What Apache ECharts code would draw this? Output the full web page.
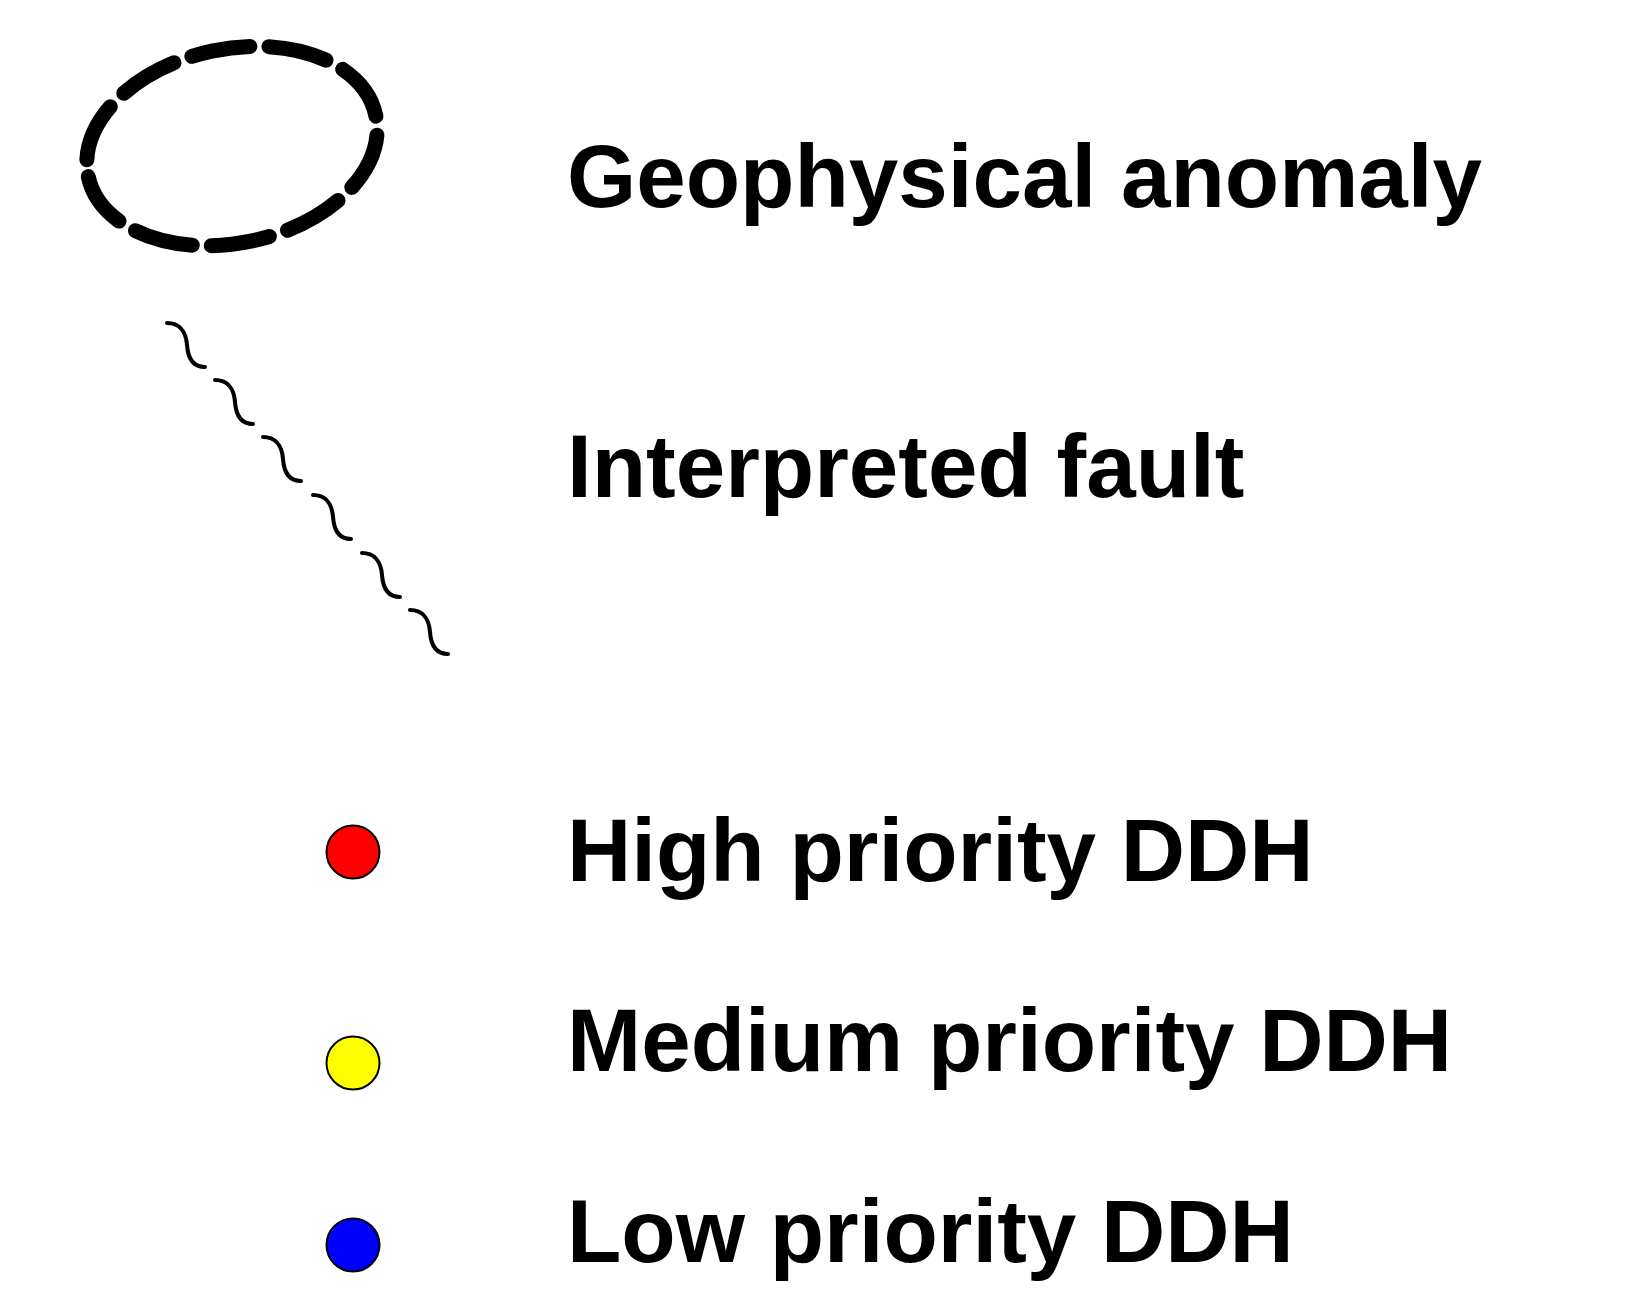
<!DOCTYPE html>
<html>
<head>
<meta charset="utf-8">
<script src="https://cdn.jsdelivr.net/npm/echarts@6/dist/echarts.min.js"></script>
<style>
  html, body { margin: 0; padding: 0; background: #fff; }
  #legend { width: 1629px; height: 1306px; }
</style>
</head>
<body>
<div id="legend"></div>
<script>
// legend items (plane is measured in picture pixels, y downwards)
var labelNames = ['Geophysical anomaly', 'Interpreted fault', 'High priority DDH', 'Medium priority DDH', 'Low priority DDH'];
var labelColumn = 567;
var labelRows = [182, 472, 856, 1046, 1237];

var anomalyCentre = [232, 146];

var faultX = [167, 215, 263, 313, 362, 410];
var faultY = [323, 380, 437, 495, 553, 610];

var ddhNames = ['High', 'Medium', 'Low'];
var ddhColumn = 353;
var ddhRows = [852, 1063, 1245];

var ddhColors = ['#ff0000', '#ffff00', '#0000ff'];

var chart = echarts.init(document.getElementById('legend'));

var option = {
    backgroundColor: '#ffffff',
    animation: false,
    grid: {left: 0, right: 0, top: 0, bottom: 0},
    xAxis: {type: 'value', min: 0, max: 1629, show: false},
    yAxis: {type: 'value', min: 0, max: 1306, inverse: true, show: false},
    series: [
        {
            // dashed ellipse
            type: 'custom',
            silent: true,
            data: [anomalyCentre],
            renderItem: function (params, api) {
                var c = api.coord([api.value(0), api.value(1)]);
                return {
                    type: 'ellipse',
                    x: c[0],
                    y: c[1],
                    rotation: 12 * Math.PI / 180,
                    shape: {cx: 0, cy: 0, rx: 147, ry: 97},
                    style: {
                        fill: 'none',
                        stroke: '#000',
                        lineWidth: 15,
                        lineDash: [59, 19],
                        lineDashOffset: 61,
                        lineCap: 'round'
                    }
                };
            }
        },
        {
            // wavy fault, one S stroke per point
            type: 'custom',
            silent: true,
            data: faultX.map(function (x, i) { return [x, faultY[i]]; }),
            renderItem: function (params, api) {
                var c = api.coord([api.value(0), api.value(1)]);
                return {
                    type: 'path',
                    shape: {
                        pathData: 'M0,0 C12,0 19,8 20,22 C21,36 26,44 38,44',
                        x: c[0], y: c[1], width: 38, height: 44, layout: 'cover'
                    },
                    style: {fill: 'none', stroke: '#000', lineWidth: 4, lineCap: 'round'}
                };
            }
        },
        {
            type: 'scatter',
            silent: true,
            symbol: 'circle',
            symbolSize: 53,
            data: ddhRows.map(function (y, i) { return {name: ddhNames[i], value: [ddhColumn, y]}; }),
            itemStyle: {
                color: function (p) { return ddhColors[p.dataIndex]; },
                borderColor: '#000',
                borderWidth: 2,
                opacity: 1
            }
        },
        {
            type: 'custom',
            silent: true,
            data: labelRows.map(function (y, i) { return [labelColumn, y, labelNames[i]]; }),
            renderItem: function (params, api) {
                var c = api.coord([api.value(0), api.value(1)]);
                return {
                    type: 'text',
                    x: c[0],
                    y: c[1],
                    style: {
                        text: labelNames[params.dataIndex],
                        fill: '#000',
                        font: 'bold 89px "Liberation Sans", Arial, sans-serif',
                        align: 'left',
                        verticalAlign: 'middle'
                    }
                };
            }
        }
    ]
};

chart.setOption(option);
</script>
</body>
</html>
